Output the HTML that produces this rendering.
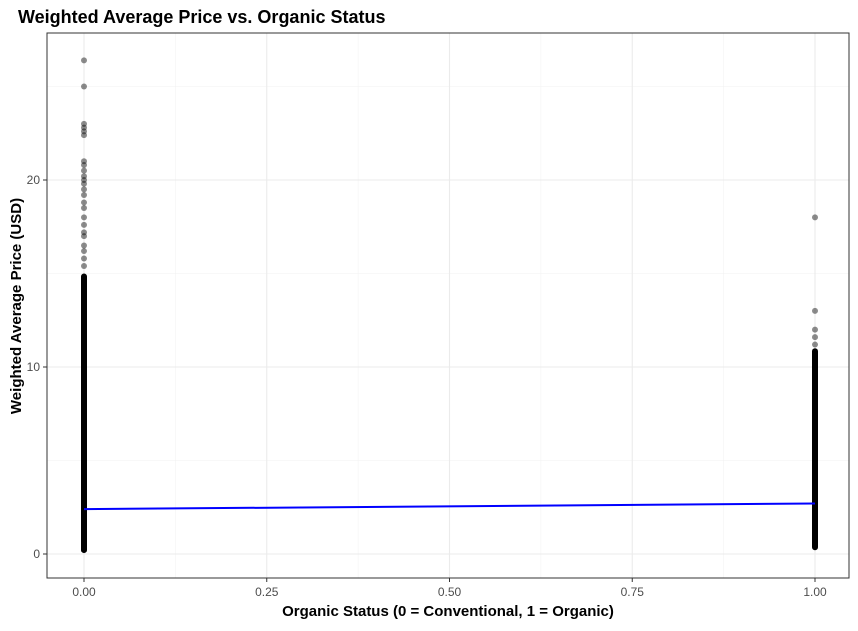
<!DOCTYPE html>
<html><head><meta charset="utf-8"><style>
body{margin:0;background:#fff;font-family:"Liberation Sans",sans-serif}
</style></head><body>
<svg width="858" height="626" xmlns="http://www.w3.org/2000/svg">
<text x="18" y="23" font-size="18" font-weight="bold" fill="#000">Weighted Average Price vs. Organic Status</text>
<g id="grid"></g>
<g id="pts"></g>
<g id="fit"></g>
<rect x="47" y="33" width="802" height="545" fill="none" stroke="#333" stroke-width="1"/>
<g id="axes"></g>
<text x="448" y="616" font-size="15" font-weight="bold" text-anchor="middle">Organic Status (0 = Conventional, 1 = Organic)</text>
<text transform="translate(21,306) rotate(-90)" font-size="15" font-weight="bold" text-anchor="middle">Weighted Average Price (USD)</text>
</svg>
<script>
const xTicks=[0,0.25,0.5,0.75,1];
const xTickLabels=["0.00","0.25","0.50","0.75","1.00"];
const yTicks=[0,10,20];
const yTickLabels=["0","10","20"];
const groups=[0,1];
const denseMin=[0.05,0.2];
const denseMax=[15,11];
const conventionalPoints=[26.4,25,23,22.8,22.6,22.4,21,20.8,20.5,20.2,20,19.8,19.5,19.2,18.8,18.5,18,17.6,17.2,17,16.5,16.2,15.8,15.4];
const organicPoints=[18,13,12,11.6,11.2,10.8,10.5,10,9.6];
const fitIntercept=2.4;
const fitSlope=0.3;
const NS="http://www.w3.org/2000/svg";
const X=v=>84+v*731, Y=v=>554-v*18.7;
function el(t,a,p){const e=document.createElementNS(NS,t);for(const k in a)e.setAttribute(k,a[k]);document.getElementById(p).appendChild(e);return e;}
[0.125,0.375,0.625,0.875].forEach(v=>{const l=el('line',{x1:X(v),x2:X(v),y1:33,y2:578,stroke:'#f2f2f2','stroke-width':0.6},'grid');

});
[5,15,25].forEach(v=>{const l=el('line',{x1:47,x2:849,y1:Y(v),y2:Y(v),stroke:'#f2f2f2','stroke-width':0.6},'grid');

});
xTicks.forEach((v,i)=>{const l=el('line',{x1:X(v),x2:X(v),y1:33,y2:578,stroke:'#ebebeb','stroke-width':1.1},'grid');


const tk=el('line',{x1:X(v),x2:X(v),y1:578,y2:582,stroke:'#333'},'axes');


const t=el('text',{x:X(v),y:596,'font-size':12,fill:'#4d4d4d','text-anchor':'middle'},'axes');t.textContent=xTickLabels[i];

});
yTicks.forEach((v,i)=>{const l=el('line',{x1:47,x2:849,y1:Y(v),y2:Y(v),stroke:'#ebebeb','stroke-width':1.1},'grid');


const tk=el('line',{x1:43,x2:47,y1:Y(v),y2:Y(v),stroke:'#333'},'axes');


const t=el('text',{x:40,y:Y(v)+4,'font-size':12,fill:'#4d4d4d','text-anchor':'end'},'axes');t.textContent=yTickLabels[i];

});
groups.forEach((g,i)=>{const r=el('rect',{x:X(g)-3,y:Y(denseMax[i]),width:6,height:Y(denseMin[i])-Y(denseMax[i]),rx:3,fill:'#000'},'pts');

});
[[0,conventionalPoints],[1,organicPoints]].forEach(([g,arr])=>arr.forEach(v=>{const c=el('circle',{cx:X(g),cy:Y(v),r:3,fill:'#000','fill-opacity':0.45},'pts');

}));
const f=el('line',{x1:X(0),y1:Y(fitIntercept),x2:X(1),y2:Y(fitIntercept+fitSlope),stroke:'#0000ff','stroke-width':2},'fit');


</script>
</body></html>
